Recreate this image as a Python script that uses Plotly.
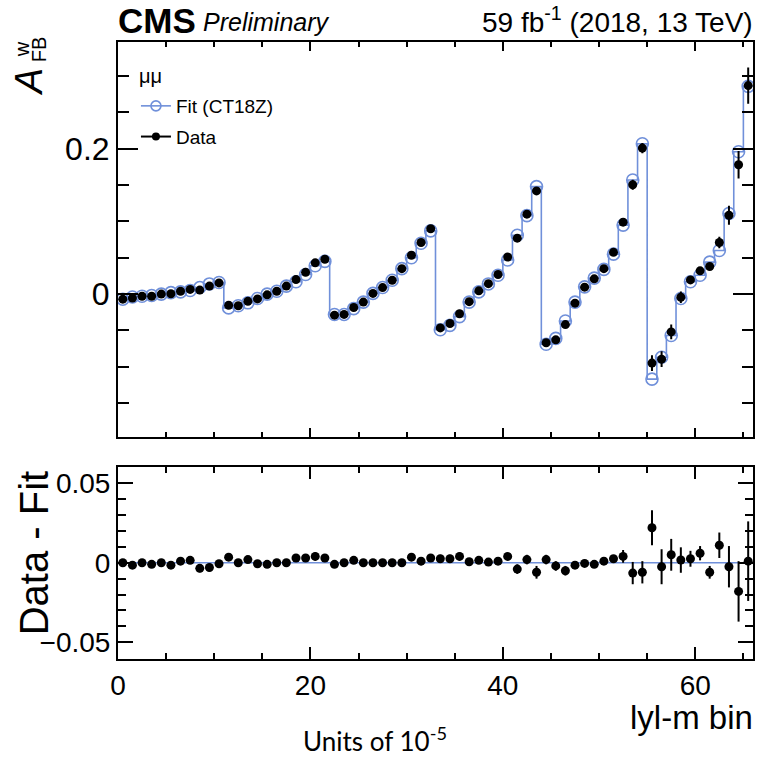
import plotly.graph_objects as go

# ---------------- data ----------------
n_bins = 66
bin_edges = list(range(n_bins + 1))
bin_centers = [i + 0.5 for i in range(n_bins)]

fit_values = [
    -0.007, -0.004, -0.003, -0.002, 0.000, 0.002, 0.003, 0.005, 0.009, 0.014, 0.016,
    -0.019, -0.016, -0.012, -0.006, 0.000, 0.004, 0.011, 0.017, 0.027, 0.039, 0.045,
    -0.028, -0.028, -0.020, -0.011, 0.001, 0.009, 0.019, 0.035, 0.050, 0.070, 0.087,
    -0.049, -0.043, -0.031, -0.011, 0.003, 0.014, 0.026, 0.047, 0.081, 0.108, 0.148,
    -0.069, -0.061, -0.037, -0.011, 0.010, 0.022, 0.034, 0.055, 0.095, 0.157, 0.207,
    -0.117, -0.087, -0.057, -0.006, 0.017, 0.026, 0.044, 0.060, 0.111, 0.196, 0.286,
]

residuals = [
    0.000, -0.0015, 0.000, -0.001, 0.000, -0.0015, 0.001, 0.0015, -0.0035, -0.003, -0.0006,
    0.0035, 0.000, 0.002, -0.0006, -0.001, 0.000, 0.000, 0.003, 0.003, 0.004, 0.003,
    -0.001, 0.000, 0.0015, 0.000, 0.000, 0.000, 0.000, 0.000, 0.0035, 0.001, 0.003,
    0.0025, 0.0025, 0.004, 0.0006, 0.0015, 0.0004, 0.001, 0.004, -0.004, 0.002, -0.006,
    0.002, -0.002, -0.005, -0.0015, -0.0004, -0.001, 0.001, 0.0025, 0.004, -0.0065, -0.006,
    0.022, -0.0025, 0.005, 0.0017, 0.0025, 0.006, -0.006, 0.011, -0.0025, -0.018, 0.001,
]

data_errors = [
    0.001, 0.001, 0.001, 0.001, 0.001, 0.001, 0.001, 0.001, 0.0025, 0.0025, 0.002,
    0.0015, 0.0015, 0.0015, 0.0015, 0.0015, 0.0015, 0.0015, 0.0025, 0.0025, 0.0025, 0.0025,
    0.0015, 0.0015, 0.0015, 0.0015, 0.0015, 0.0015, 0.0015, 0.0015, 0.0025, 0.0025, 0.0025,
    0.0025, 0.0025, 0.0025, 0.002, 0.002, 0.002, 0.002, 0.002, 0.003, 0.003, 0.004,
    0.003, 0.003, 0.003, 0.002, 0.002, 0.002, 0.002, 0.002, 0.004, 0.007, 0.007,
    0.011, 0.011, 0.010, 0.008, 0.005, 0.0045, 0.004, 0.008, 0.013, 0.019, 0.025,
]

data_values = [f + r for f, r in zip(fit_values, residuals)]
fit_minus_fit = [f - f for f in fit_values]

x_tick_vals = [0, 20, 40, 60]

# ---------------- style ----------------
BLUE = "#7090da"
FONT = "Liberation Sans, Arial, Helvetica, sans-serif"
W, H = 761, 758
L, R, T, B = 118, 6, 42, 99
plot_h = H - T - B


def py(ypx):
    return (H - B - ypx) / plot_h


def px(xpx):
    return (xpx - L) / (W - L - R)


fig = go.Figure()

# main panel: fit histogram (step line) and circles
fig.add_trace(go.Scatter(
    x=bin_edges, y=fit_values + [fit_values[-1]], mode="lines", line_shape="hv",
    line=dict(color=BLUE, width=1.6), showlegend=False, xaxis="x", yaxis="y",
    hoverinfo="skip"))
fig.add_trace(go.Scatter(
    x=bin_centers, y=fit_values, mode="markers",
    marker=dict(symbol="circle-open", size=12, color=BLUE, line=dict(width=1.6, color=BLUE)),
    showlegend=False, xaxis="x", yaxis="y"))
fig.add_trace(go.Scatter(
    x=bin_centers, y=data_values, mode="markers",
    marker=dict(symbol="circle", size=9, color="black"),
    error_y=dict(type="data", array=data_errors, color="black", thickness=2, width=0),
    showlegend=False, xaxis="x", yaxis="y"))

# legend keys
fig.add_trace(go.Scatter(
    x=[None], y=[None], mode="lines+markers", name="Fit (CT18Z)", legendgroup="fit",
    line=dict(color=BLUE, width=1.6),
    marker=dict(symbol="circle-open", size=10, color=BLUE, line=dict(width=1.6, color=BLUE)),
    xaxis="x", yaxis="y"))
fig.add_trace(go.Scatter(
    x=[None], y=[None], mode="lines+markers", name="Data", legendgroup="data",
    line=dict(color="black", width=2),
    marker=dict(symbol="circle", size=8, color="black"),
    xaxis="x", yaxis="y"))

# ratio panel
fig.add_trace(go.Scatter(
    x=bin_edges, y=fit_minus_fit + [fit_minus_fit[-1]], mode="lines", line_shape="hv",
    line=dict(color=BLUE, width=1.6), showlegend=False, xaxis="x2", yaxis="y2",
    hoverinfo="skip"))
fig.add_trace(go.Scatter(
    x=bin_centers, y=residuals, mode="markers",
    marker=dict(symbol="circle", size=9, color="black"),
    error_y=dict(type="data", array=data_errors, color="black", thickness=2, width=0),
    showlegend=False, xaxis="x2", yaxis="y2"))

axis_common = dict(
    showline=True, linecolor="black", linewidth=2, mirror="allticks",
    ticks="inside", tickcolor="black", tickwidth=1.5, showgrid=False, zeroline=False,
)

main_bottom = py(436.5)
ratio_top = py(466.5)

fig.update_layout(
    width=W, height=H,
    margin=dict(l=L, r=R, t=T, b=B, pad=0),
    paper_bgcolor="white", plot_bgcolor="white",
    xaxis=dict(domain=[0, 1], range=[0, 66], anchor="y", showticklabels=False,
               tickvals=x_tick_vals, ticklen=9,
               minor=dict(ticks="inside", dtick=5, tick0=0, ticklen=5, tickcolor="black", tickwidth=1.5),
               **axis_common),
    yaxis=dict(domain=[main_bottom, 1], range=[-0.196, 0.347], anchor="x",
               dtick=0.2, tick0=0, ticklen=20, ticklabelstandoff=0,
               tickfont=dict(family=FONT, size=32, color="black"),
               minor=dict(ticks="inside", dtick=0.05, tick0=0, ticklen=11, tickcolor="black", tickwidth=1.5),
               **axis_common),
    xaxis2=dict(domain=[0, 1], range=[0, 66], anchor="y2", matches="x",
                tickvals=x_tick_vals, ticklen=12, ticklabelstandoff=0,
                tickfont=dict(family=FONT, size=28, color="black"),
                minor=dict(ticks="inside", dtick=5, tick0=0, ticklen=6, tickcolor="black", tickwidth=1.5),
                **axis_common),
    yaxis2=dict(domain=[0, ratio_top], range=[-0.0605, 0.0605], anchor="x2",
                dtick=0.05, tick0=0, ticklen=15, ticklabelstandoff=0,
                tickfont=dict(family=FONT, size=28, color="black"),
                minor=dict(ticks="inside", dtick=0.01, tick0=0, ticklen=8, tickcolor="black", tickwidth=1.5),
                **axis_common),
    legend=dict(x=px(136), y=py(87), xanchor="left", yanchor="top",
                bgcolor="rgba(0,0,0,0)", borderwidth=0,
                font=dict(family=FONT, size=19, color="black"),
                itemwidth=30, tracegroupgap=3),
    showlegend=True,
)

ann = []
# header
ann.append(dict(text="<b>CMS</b>", x=px(116), y=py(20), xref="paper", yref="paper",
                xanchor="left", yanchor="middle", showarrow=False,
                font=dict(family=FONT, size=35, color="black")))
ann.append(dict(text="<i>Preliminary</i>", x=px(201), y=py(22), xref="paper", yref="paper",
                xanchor="left", yanchor="middle", showarrow=False,
                font=dict(family=FONT, size=25, color="black")))
ann.append(dict(text="59 fb<sup>-1</sup> (2018, 13 TeV)", x=px(757), y=py(20), xref="paper", yref="paper",
                xanchor="right", yanchor="middle", showarrow=False,
                font=dict(family=FONT, size=28, color="black")))
# legend header
ann.append(dict(text="μμ", x=px(137), y=py(76), xref="paper", yref="paper",
                xanchor="left", yanchor="middle", showarrow=False,
                font=dict(family=FONT, size=20, color="black")))
# main y title  A^w_FB (rotated)
ann.append(dict(text="<i>A</i>", x=px(29), y=py(82), xref="paper", yref="paper",
                xanchor="center", yanchor="middle", textangle=-90, showarrow=False,
                font=dict(family=FONT, size=38, color="black")))
ann.append(dict(text="w", x=px(22), y=py(49), xref="paper", yref="paper",
                xanchor="center", yanchor="middle", textangle=-90, showarrow=False,
                font=dict(family=FONT, size=20, color="black")))
ann.append(dict(text="FB", x=px(39), y=py(49), xref="paper", yref="paper",
                xanchor="center", yanchor="middle", textangle=-90, showarrow=False,
                font=dict(family=FONT, size=20, color="black")))
# ratio y title
ann.append(dict(text="Data - Fit", x=px(34), y=py(553), xref="paper", yref="paper",
                xanchor="center", yanchor="middle", textangle=-90, showarrow=False,
                font=dict(family=FONT, size=40, color="black")))
# x title
ann.append(dict(text="lyl-m bin", x=px(757), y=py(717), xref="paper", yref="paper",
                xanchor="right", yanchor="middle", showarrow=False,
                font=dict(family=FONT, size=33, color="black")))
# footnote
ann.append(dict(text="Units of 10<sup>-5</sup>", x=px(376), y=py(739), xref="paper", yref="paper",
                xanchor="center", yanchor="middle", showarrow=False,
                font=dict(family="Lato, Open Sans, sans-serif", size=26, color="black")))
fig.update_layout(annotations=ann)

fig.write_html("out.html")
